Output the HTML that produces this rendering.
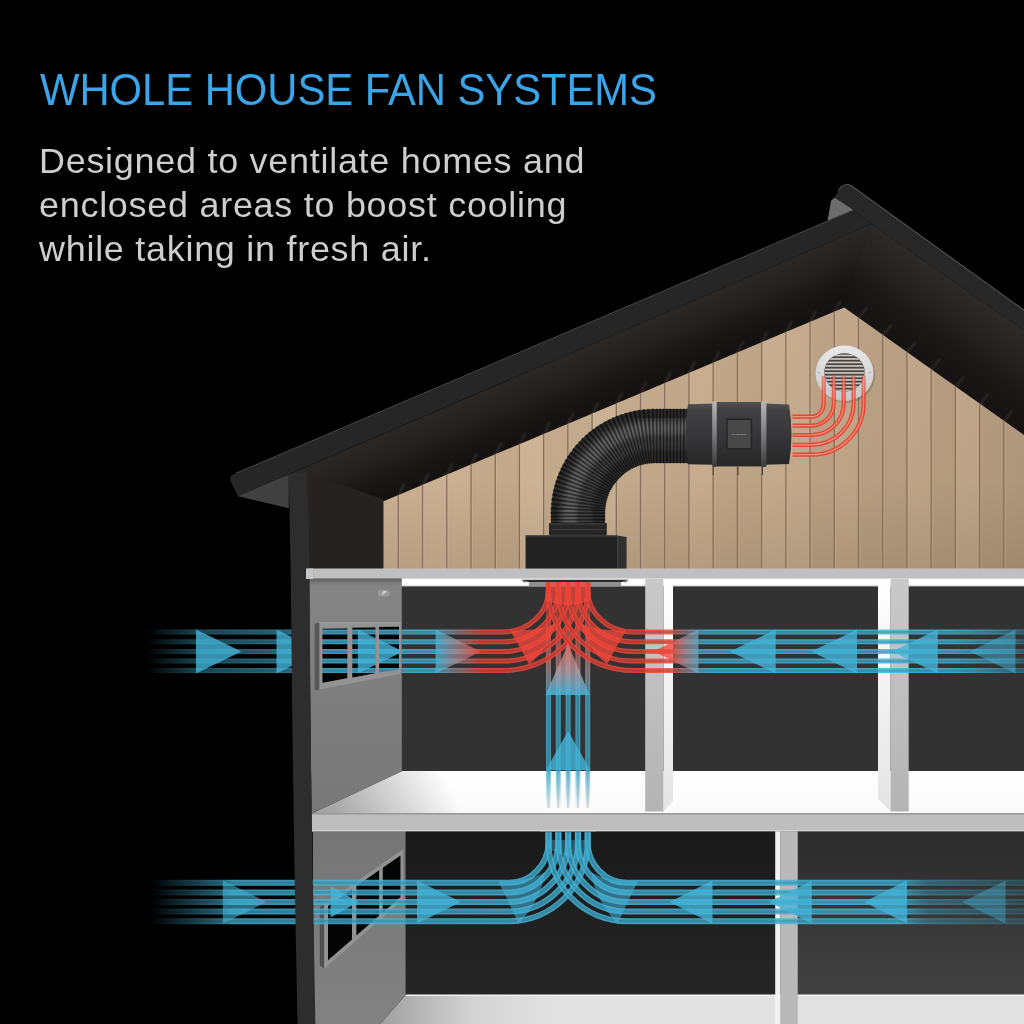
<!DOCTYPE html>
<html lang="en"><head><meta charset="utf-8"><title>Whole House Fan Systems</title>
<style>
html,body{margin:0;padding:0;background:#000;}
body{width:1024px;height:1024px;overflow:hidden;position:relative;font-family:"Liberation Sans",sans-serif;}
svg{position:absolute;left:0;top:0;display:block}
h1{position:absolute;left:40px;top:64.2px;margin:0;font-weight:400;font-size:44.5px;line-height:52px;color:#3aa5e8;white-space:nowrap;transform:scaleX(0.938);transform-origin:0 0}
p{position:absolute;left:38.5px;top:138.6px;margin:0;font-size:34.5px;line-height:44px;color:#cecece;white-space:nowrap;letter-spacing:0.7px;transform:scaleX(1.042);transform-origin:0 0}
</style></head><body>
<svg width="1024" height="1024" viewBox="0 0 1024 1024">
<defs>
<linearGradient id="gWood" x1="0" y1="0" x2="0" y2="1"><stop offset="0" stop-color="#ceb394"/><stop offset="1" stop-color="#c8ad8e"/></linearGradient>
<linearGradient id="gSoffL" gradientUnits="userSpaceOnUse" x1="560" y1="358" x2="585" y2="416"><stop offset="0" stop-color="#2a2724"/><stop offset="0.35" stop-color="#24211e"/><stop offset="0.6" stop-color="#1a1816"/><stop offset="1" stop-color="#141211"/></linearGradient>
<linearGradient id="gSoffR" gradientUnits="userSpaceOnUse" x1="960" y1="286" x2="911" y2="356"><stop offset="0" stop-color="#2c2926"/><stop offset="0.35" stop-color="#25221f"/><stop offset="0.6" stop-color="#1b1917"/><stop offset="1" stop-color="#151312"/></linearGradient>
<linearGradient id="gSideU" x1="0" y1="0" x2="0" y2="1"><stop offset="0" stop-color="#6e6e6e"/><stop offset="0.035" stop-color="#848484"/><stop offset="0.5" stop-color="#7e7e7e"/><stop offset="1" stop-color="#787878"/></linearGradient>
<linearGradient id="gSideL" x1="0" y1="0" x2="0" y2="1"><stop offset="0" stop-color="#757575"/><stop offset="0.5" stop-color="#7c7c7c"/><stop offset="1" stop-color="#828282"/></linearGradient>
<linearGradient id="gFloorX" gradientUnits="userSpaceOnUse" x1="335" y1="822" x2="440" y2="768"><stop offset="0" stop-color="#8e8e8e" stop-opacity="0.8"/><stop offset="1" stop-color="#8e8e8e" stop-opacity="0"/></linearGradient>
<linearGradient id="gLFloor" gradientUnits="userSpaceOnUse" x1="385" y1="0" x2="560" y2="0"><stop offset="0" stop-color="#a2a2a2"/><stop offset="0.5" stop-color="#d4d4d4"/><stop offset="1" stop-color="#e2e2e2"/></linearGradient>
<linearGradient id="gFloor" x1="0" y1="0" x2="0" y2="1"><stop offset="0" stop-color="#ffffff"/><stop offset="1" stop-color="#fafafa"/></linearGradient>
<linearGradient id="gRoomLR" x1="0" y1="0" x2="0" y2="1"><stop offset="0" stop-color="#2b2b2b"/><stop offset="1" stop-color="#424242"/></linearGradient>
<linearGradient id="gRoomLM" x1="0" y1="0" x2="0" y2="1"><stop offset="0" stop-color="#191919"/><stop offset="1" stop-color="#262626"/></linearGradient>
<linearGradient id="gFan" x1="0" y1="0" x2="0" y2="1"><stop offset="0" stop-color="#525252"/><stop offset="0.12" stop-color="#404042"/><stop offset="0.5" stop-color="#37373a"/><stop offset="1" stop-color="#262626"/></linearGradient>
<linearGradient id="gBand" x1="0" y1="0" x2="0" y2="1"><stop offset="0" stop-color="#b8b8b8"/><stop offset="0.5" stop-color="#7c7c7c"/><stop offset="1" stop-color="#3a3a3a"/></linearGradient>
<linearGradient id="gPilF" x1="0" y1="0" x2="0" y2="1"><stop offset="0" stop-color="#c9c9c9"/><stop offset="1" stop-color="#b4b4b4"/></linearGradient>
<linearGradient id="gPilS" x1="0" y1="0" x2="0" y2="1"><stop offset="0" stop-color="#ffffff"/><stop offset="1" stop-color="#e4e4e4"/></linearGradient>
<linearGradient id="gVent" x1="0" y1="0" x2="0" y2="1"><stop offset="0" stop-color="#e9e9e9"/><stop offset="1" stop-color="#c6c6c6"/></linearGradient>
<!-- airflow gradients (userSpaceOnUse) -->
<linearGradient id="gUL" gradientUnits="userSpaceOnUse" x1="146" y1="0" x2="482" y2="0">
 <stop offset="0" stop-color="#44b4d8" stop-opacity="0"/><stop offset="0.155" stop-color="#44b4d8" stop-opacity="0.5"/><stop offset="0.414" stop-color="#44b4d8" stop-opacity="0.72"/><stop offset="0.512" stop-color="#44b4d8" stop-opacity="1"/>
 <stop offset="0.86" stop-color="#44b4d8"/><stop offset="0.925" stop-color="#a895a0" stop-opacity="0.8"/><stop offset="1" stop-color="#ef463a"/></linearGradient>
<linearGradient id="gUR" gradientUnits="userSpaceOnUse" x1="1024" y1="0" x2="670" y2="0">
 <stop offset="0" stop-color="#44b4d8" stop-opacity="0.45"/><stop offset="0.1" stop-color="#44b4d8" stop-opacity="0.8"/><stop offset="0.2" stop-color="#44b4d8" stop-opacity="1"/>
 <stop offset="0.9" stop-color="#44b4d8"/><stop offset="0.955" stop-color="#a895a0" stop-opacity="0.8"/><stop offset="1" stop-color="#ef463a"/></linearGradient>
<linearGradient id="gUV" gradientUnits="userSpaceOnUse" x1="0" y1="808" x2="0" y2="596">
 <stop offset="0" stop-color="#44b4d8" stop-opacity="0"/><stop offset="0.17" stop-color="#44b4d8" stop-opacity="0.95"/>
 <stop offset="0.53" stop-color="#44b4d8"/><stop offset="0.66" stop-color="#c09aa0" stop-opacity="0.85"/><stop offset="0.8" stop-color="#ef6a5e" stop-opacity="0.8"/><stop offset="1" stop-color="#ef463a" stop-opacity="0.7"/></linearGradient>
<linearGradient id="gLL" gradientUnits="userSpaceOnUse" x1="150" y1="0" x2="600" y2="0">
 <stop offset="0" stop-color="#44b4d8" stop-opacity="0"/><stop offset="0.160" stop-color="#44b4d8" stop-opacity="0.7"/><stop offset="0.182" stop-color="#44b4d8" stop-opacity="0.95"/>
 <stop offset="1" stop-color="#44b4d8"/></linearGradient>
<linearGradient id="gLR" gradientUnits="userSpaceOnUse" x1="1024" y1="0" x2="540" y2="0">
 <stop offset="0" stop-color="#44b4d8" stop-opacity="0.3"/><stop offset="0.2" stop-color="#44b4d8" stop-opacity="0.55"/><stop offset="0.26" stop-color="#44b4d8" stop-opacity="1"/>
 <stop offset="1" stop-color="#44b4d8"/></linearGradient>
<filter id="fBlur" x="-5%" y="-5%" width="110%" height="110%"><feGaussianBlur stdDeviation="0.45"/></filter>
<filter id="fBlur2" x="-10%" y="-10%" width="120%" height="120%"><feGaussianBlur stdDeviation="2.2"/></filter>
<linearGradient id="gWoodX" gradientUnits="userSpaceOnUse" x1="620" y1="0" x2="1024" y2="0"><stop offset="0" stop-color="#2a1c10" stop-opacity="0"/><stop offset="1" stop-color="#2a1c10" stop-opacity="0.13"/></linearGradient>
<linearGradient id="gWoodAO" gradientUnits="userSpaceOnUse" x1="0" y1="480" x2="0" y2="569"><stop offset="0" stop-color="#2a1c10" stop-opacity="0"/><stop offset="1" stop-color="#2a1c10" stop-opacity="0.1"/></linearGradient>
<filter id="fBlur3" x="-50%" y="-50%" width="200%" height="200%"><feGaussianBlur stdDeviation="0.9"/></filter>
<linearGradient id="gRedV" gradientUnits="userSpaceOnUse" x1="0" y1="376" x2="0" y2="403"><stop offset="0" stop-color="#e8402f" stop-opacity="0.5"/><stop offset="1" stop-color="#e8402f" stop-opacity="0.94"/></linearGradient>
<linearGradient id="gRedV2" gradientUnits="userSpaceOnUse" x1="0" y1="376" x2="0" y2="403"><stop offset="0" stop-color="#f8b4a6" stop-opacity="0.5"/><stop offset="1" stop-color="#f39a88" stop-opacity="0.9"/></linearGradient>
<clipPath id="cWood"><polygon points="383.5,501.25 844.25,307.5 1024,435 1024,569.2 383.5,569"/></clipPath>
<clipPath id="cGrille"><ellipse cx="844.5" cy="372.4" rx="20" ry="19"/></clipPath>
</defs>

<polygon points="827.5,221 831,201 834.4,197.5 845,203 853.5,210" fill="#6c6c6c"/>
<polygon points="830,250 871.25,224.1 900,250 870,330 844.25,307.5 820,320" fill="#1f1c1a"/>
<polygon points="288.75,474.5 871.25,224.1 844.25,307.5 383.75,501.25 383.75,520 300,520" fill="url(#gSoffL)"/>
<polygon points="871.25,224.1 1024,330.3 1024,436 844.25,307.5" fill="url(#gSoffR)"/>
<g filter="url(#fBlur3)" stroke="#4a4643" stroke-linecap="round" fill="none">
<path d="M398.5,495.5 l5.5,-11" stroke-width="1.8" stroke-opacity="0.55"/>
<path d="M422.7,485.4 l5.5,-11" stroke-width="1.8" stroke-opacity="0.55"/>
<path d="M446.9,475.2 l5.5,-11" stroke-width="1.8" stroke-opacity="0.55"/>
<path d="M471.2,465.0 l5.5,-11" stroke-width="1.8" stroke-opacity="0.55"/>
<path d="M495.4,454.8 l5.5,-11" stroke-width="1.8" stroke-opacity="0.55"/>
<path d="M519.6,444.6 l5.5,-11" stroke-width="1.8" stroke-opacity="0.55"/>
<path d="M543.8,434.4 l5.5,-11" stroke-width="1.8" stroke-opacity="0.55"/>
<path d="M568.0,424.2 l5.5,-11" stroke-width="1.8" stroke-opacity="0.55"/>
<path d="M592.3,414.0 l5.5,-11" stroke-width="1.8" stroke-opacity="0.55"/>
<path d="M616.5,403.8 l5.5,-11" stroke-width="1.8" stroke-opacity="0.55"/>
<path d="M640.7,393.7 l5.5,-11" stroke-width="1.8" stroke-opacity="0.55"/>
<path d="M664.9,383.5 l5.5,-11" stroke-width="1.8" stroke-opacity="0.55"/>
<path d="M689.1,373.3 l5.5,-11" stroke-width="1.8" stroke-opacity="0.55"/>
<path d="M713.4,363.1 l5.5,-11" stroke-width="1.8" stroke-opacity="0.55"/>
<path d="M737.6,352.9 l5.5,-11" stroke-width="1.8" stroke-opacity="0.55"/>
<path d="M761.8,342.7 l5.5,-11" stroke-width="1.8" stroke-opacity="0.55"/>
<path d="M786.0,332.5 l5.5,-11" stroke-width="1.8" stroke-opacity="0.55"/>
<path d="M810.2,322.3 l5.5,-11" stroke-width="1.8" stroke-opacity="0.55"/>
<path d="M834.5,312.1 l5.5,-11" stroke-width="1.8" stroke-opacity="0.55"/>
<path d="M858.7,318.2 l8,-10" stroke-width="1.8" stroke-opacity="0.55"/>
<path d="M882.9,335.4 l8,-10" stroke-width="1.8" stroke-opacity="0.55"/>
<path d="M907.1,352.6 l8,-10" stroke-width="1.8" stroke-opacity="0.55"/>
<path d="M931.3,369.7 l8,-10" stroke-width="1.8" stroke-opacity="0.55"/>
<path d="M955.6,386.9 l8,-10" stroke-width="1.8" stroke-opacity="0.55"/>
<path d="M979.8,404.1 l8,-10" stroke-width="1.8" stroke-opacity="0.55"/>
<path d="M1004.0,421.3 l8,-10" stroke-width="1.8" stroke-opacity="0.55"/>
</g>
<polygon points="306,472 384.5,500 384.5,568 306,568" fill="#262220"/>
<g clip-path="url(#cWood)">
<rect x="380" y="300" width="650" height="270" fill="url(#gWood)"/>
<rect x="380" y="300" width="650" height="270" fill="url(#gWoodX)"/>
<rect x="380" y="480" width="650" height="90" fill="url(#gWoodAO)"/>
<rect x="383.00" y="300" width="15.50" height="270" fill="#fff" opacity="0.030"/>
<rect x="422.72" y="300" width="24.22" height="270" fill="#fff" opacity="0.030"/>
<rect x="471.16" y="300" width="24.22" height="270" fill="#000" opacity="0.030"/>
<rect x="495.38" y="300" width="24.22" height="270" fill="#000" opacity="0.030"/>
<rect x="519.60" y="300" width="24.22" height="270" fill="#fff" opacity="0.060"/>
<rect x="543.82" y="300" width="24.22" height="270" fill="#000" opacity="0.030"/>
<rect x="568.04" y="300" width="24.22" height="270" fill="#000" opacity="0.030"/>
<rect x="592.26" y="300" width="24.22" height="270" fill="#fff" opacity="0.030"/>
<rect x="616.48" y="300" width="24.22" height="270" fill="#000" opacity="0.030"/>
<rect x="640.70" y="300" width="24.22" height="270" fill="#000" opacity="0.030"/>
<rect x="664.92" y="300" width="24.22" height="270" fill="#000" opacity="0.030"/>
<rect x="713.36" y="300" width="24.22" height="270" fill="#000" opacity="0.030"/>
<rect x="737.58" y="300" width="24.22" height="270" fill="#000" opacity="0.030"/>
<rect x="761.80" y="300" width="24.22" height="270" fill="#fff" opacity="0.030"/>
<rect x="786.02" y="300" width="24.22" height="270" fill="#fff" opacity="0.030"/>
<rect x="810.24" y="300" width="24.22" height="270" fill="#000" opacity="0.030"/>
<rect x="858.68" y="300" width="24.22" height="270" fill="#000" opacity="0.030"/>
<rect x="882.90" y="300" width="24.22" height="270" fill="#000" opacity="0.030"/>
<rect x="907.12" y="300" width="24.22" height="270" fill="#fff" opacity="0.030"/>
<rect x="931.34" y="300" width="24.22" height="270" fill="#000" opacity="0.030"/>
<rect x="955.56" y="300" width="24.22" height="270" fill="#fff" opacity="0.060"/>
<rect x="979.78" y="300" width="24.22" height="270" fill="#000" opacity="0.030"/>
<rect x="1004.00" y="300" width="26.00" height="270" fill="#000" opacity="0.030"/>
<rect x="397.70" y="300" width="1.3" height="270" fill="#836f5b"/>
<rect x="399.10" y="300" width="1.0" height="270" fill="#d8bc9c" opacity="0.3"/>
<rect x="421.92" y="300" width="1.3" height="270" fill="#836f5b"/>
<rect x="423.32" y="300" width="1.0" height="270" fill="#d8bc9c" opacity="0.3"/>
<rect x="446.14" y="300" width="1.3" height="270" fill="#836f5b"/>
<rect x="447.54" y="300" width="1.0" height="270" fill="#d8bc9c" opacity="0.3"/>
<rect x="470.36" y="300" width="1.3" height="270" fill="#836f5b"/>
<rect x="471.76" y="300" width="1.0" height="270" fill="#d8bc9c" opacity="0.3"/>
<rect x="494.58" y="300" width="1.3" height="270" fill="#836f5b"/>
<rect x="495.98" y="300" width="1.0" height="270" fill="#d8bc9c" opacity="0.3"/>
<rect x="518.80" y="300" width="1.3" height="270" fill="#836f5b"/>
<rect x="520.20" y="300" width="1.0" height="270" fill="#d8bc9c" opacity="0.3"/>
<rect x="543.02" y="300" width="1.3" height="270" fill="#836f5b"/>
<rect x="544.42" y="300" width="1.0" height="270" fill="#d8bc9c" opacity="0.3"/>
<rect x="567.24" y="300" width="1.3" height="270" fill="#836f5b"/>
<rect x="568.64" y="300" width="1.0" height="270" fill="#d8bc9c" opacity="0.3"/>
<rect x="591.46" y="300" width="1.3" height="270" fill="#836f5b"/>
<rect x="592.86" y="300" width="1.0" height="270" fill="#d8bc9c" opacity="0.3"/>
<rect x="615.68" y="300" width="1.3" height="270" fill="#836f5b"/>
<rect x="617.08" y="300" width="1.0" height="270" fill="#d8bc9c" opacity="0.3"/>
<rect x="639.90" y="300" width="1.3" height="270" fill="#836f5b"/>
<rect x="641.30" y="300" width="1.0" height="270" fill="#d8bc9c" opacity="0.3"/>
<rect x="664.12" y="300" width="1.3" height="270" fill="#836f5b"/>
<rect x="665.52" y="300" width="1.0" height="270" fill="#d8bc9c" opacity="0.3"/>
<rect x="688.34" y="300" width="1.3" height="270" fill="#836f5b"/>
<rect x="689.74" y="300" width="1.0" height="270" fill="#d8bc9c" opacity="0.3"/>
<rect x="712.56" y="300" width="1.3" height="270" fill="#836f5b"/>
<rect x="713.96" y="300" width="1.0" height="270" fill="#d8bc9c" opacity="0.3"/>
<rect x="736.78" y="300" width="1.3" height="270" fill="#836f5b"/>
<rect x="738.18" y="300" width="1.0" height="270" fill="#d8bc9c" opacity="0.3"/>
<rect x="761.00" y="300" width="1.3" height="270" fill="#836f5b"/>
<rect x="762.40" y="300" width="1.0" height="270" fill="#d8bc9c" opacity="0.3"/>
<rect x="785.22" y="300" width="1.3" height="270" fill="#836f5b"/>
<rect x="786.62" y="300" width="1.0" height="270" fill="#d8bc9c" opacity="0.3"/>
<rect x="809.44" y="300" width="1.3" height="270" fill="#836f5b"/>
<rect x="810.84" y="300" width="1.0" height="270" fill="#d8bc9c" opacity="0.3"/>
<rect x="833.66" y="300" width="1.3" height="270" fill="#836f5b"/>
<rect x="835.06" y="300" width="1.0" height="270" fill="#d8bc9c" opacity="0.3"/>
<rect x="857.88" y="300" width="1.3" height="270" fill="#836f5b"/>
<rect x="859.28" y="300" width="1.0" height="270" fill="#d8bc9c" opacity="0.3"/>
<rect x="882.10" y="300" width="1.3" height="270" fill="#836f5b"/>
<rect x="883.50" y="300" width="1.0" height="270" fill="#d8bc9c" opacity="0.3"/>
<rect x="906.32" y="300" width="1.3" height="270" fill="#836f5b"/>
<rect x="907.72" y="300" width="1.0" height="270" fill="#d8bc9c" opacity="0.3"/>
<rect x="930.54" y="300" width="1.3" height="270" fill="#836f5b"/>
<rect x="931.94" y="300" width="1.0" height="270" fill="#d8bc9c" opacity="0.3"/>
<rect x="954.76" y="300" width="1.3" height="270" fill="#836f5b"/>
<rect x="956.16" y="300" width="1.0" height="270" fill="#d8bc9c" opacity="0.3"/>
<rect x="978.98" y="300" width="1.3" height="270" fill="#836f5b"/>
<rect x="980.38" y="300" width="1.0" height="270" fill="#d8bc9c" opacity="0.3"/>
<rect x="1003.20" y="300" width="1.3" height="270" fill="#836f5b"/>
<rect x="1004.60" y="300" width="1.0" height="270" fill="#d8bc9c" opacity="0.3"/>
</g>
<path d="M231,482 Q228.5,476.5 234,474 L237.5,472.5 L853.5,210 L871.25,224.1 L237.8,496.2 Z" fill="#262626"/>
<path d="M236,473.2 L853.5,210" stroke="#454545" stroke-width="1" fill="none"/>
<path d="M834.4,197.5 L841,187 Q845,182.5 851,185.4 L1024,310 L1024,330.3 L871.25,224.1 L853.5,210 Z" fill="#272728"/>
<path d="M838,191 L841,187 Q845,182.8 851,185.6 L1024,310.2" stroke="#505050" stroke-width="1.1" fill="none"/>
<polygon points="237.8,496.2 288.75,474.5 288.75,508.2" fill="#414141"/>
<rect x="401" y="586" width="623" height="186" fill="#323232"/>
<rect x="306" y="568.4" width="718" height="10.6" fill="#bfbfbf"/>
<rect x="401" y="578.6" width="623" height="7.6" fill="#fdfdfd"/>
<rect x="401" y="585.6" width="623" height="1.4" fill="#8a8a8a" opacity="0.6"/>
<polygon points="402,771 1024,771 1024,813.2 312.8,813.2" fill="url(#gFloor)"/>
<polygon points="402,771 520,771 520,813.2 312.8,813.2" fill="url(#gFloorX)"/>
<rect x="311.5" y="813.2" width="713" height="18.4" fill="#bebebe"/>
<rect x="311.5" y="813.2" width="713" height="1.3" fill="#949494"/>
<rect x="311.5" y="830.2" width="713" height="1.3" fill="#d8d8d8"/>
<rect x="405.6" y="831.5" width="370" height="164" fill="url(#gRoomLM)"/>
<rect x="797.5" y="831.5" width="227" height="164" fill="url(#gRoomLR)"/>
<polygon points="405.6,995 1024,995 1024,1024 380,1024" fill="url(#gLFloor)"/>
<rect x="405.6" y="994.5" width="620" height="1.5" fill="#f4f4f4"/>
<polygon points="312.8,831.5 405.6,831.5 405.6,995 380,1024 314,1024" fill="url(#gSideL)"/>
<polygon points="319.8,907 324.2,904 324.2,968.5 319.8,965.5" fill="#505050"/>
<polygon points="324.2,904 403.3,849 403.3,899.6 324.2,968.5" fill="#929292"/>
<polygon points="328,905.9 352,889.2 352,939.4 328,960.3" fill="#040404"/>
<polygon points="356.4,886.1 379.1,870.3 379.1,915.8 356.4,935.6" fill="#040404"/>
<polygon points="382.8,867.8 400.5,855.4 400.5,897.1 382.8,912.6" fill="#040404"/>
<rect x="775.2" y="831.5" width="5.2" height="193" fill="#f2f2f2"/>
<rect x="780.2" y="831.5" width="17.6" height="193" fill="#b9b9b9"/>
<polygon points="645.2,579 663.6,579 663.6,811.5 645.2,811.5" fill="url(#gPilF)"/>
<polygon points="663.6,579 673,579 673,800.6 663.6,811.5" fill="url(#gPilS)"/>
<polygon points="878,579 890.6,579 890.6,811.5 878,799" fill="url(#gPilS)"/>
<polygon points="890.6,579 908.7,579 908.7,811.5 890.6,811.5" fill="url(#gPilF)"/>
<rect x="529" y="581.6" width="92" height="4.6" fill="#909090"/>
<polygon points="521,579.7 628.6,579.7 622,582 528,582" fill="#2a2a2a"/>
<polygon points="521,579.7 528,582 524,582.6" fill="#777"/><polygon points="628.6,579.7 622,582 626,582.6" fill="#777"/>
<rect x="525.6" y="535.5" width="91.6" height="33" fill="#222222"/>
<polygon points="617.2,535.5 626.6,537 626.6,568.5 617.2,568.5" fill="#303030"/>
<rect x="525.6" y="535.3" width="91.6" height="1.2" fill="#444"/>
<path d="M578,524 L578,513 A77,77 0 0 1 655,436 L689,436" fill="none" stroke="#2a2a2a" stroke-width="54"/>
<g filter="url(#fBlur2)">
<path d="M575,526 L575,513 A80,80 0 0 1 655,433 L691,433" fill="none" stroke="#3e3e3e" stroke-width="34"/>
<path d="M570,526 L570,513 A85,85 0 0 1 655,428 L691,428" fill="none" stroke="#606060" stroke-width="13"/>
</g>
<path d="M578,524 L578,513 A77,77 0 0 1 655,436 L689,436" fill="none" stroke="#000" stroke-opacity="0.5" stroke-width="55" stroke-dasharray="1.7 1.7"/>
<rect x="549" y="523" width="57.8" height="12.5" rx="1.5" fill="#262626"/>
<rect x="549" y="523" width="57.8" height="2" fill="#333"/>
<rect x="551" y="529" width="54" height="1.2" fill="#3a3a3a"/>
<path d="M688,404.2 L714,403.6 L714,464.8 L688,464.2 Q683,434 688,404.2 Z" fill="url(#gFan)"/>
<rect x="716" y="402" width="47" height="64.4" fill="url(#gFan)"/>
<path d="M765,403.6 L789,404.4 Q794,434 789,464 L765,464.8 Z" fill="url(#gFan)"/>
<rect x="712.2" y="401" width="4.6" height="66" rx="1.5" fill="url(#gBand)"/>
<rect x="761" y="401" width="5.4" height="66" rx="1.5" fill="url(#gBand)"/>
<rect x="726.2" y="418.3" width="26" height="31.4" rx="1" fill="#262626"/>
<rect x="727.8" y="420" width="22.8" height="28" fill="#484848"/>
<text x="739.2" y="435.2" font-family="Liberation Sans, sans-serif" font-size="2.5" fill="#cfcfcf" text-anchor="middle" letter-spacing="0.15">AC INFINITY</text>
<rect x="712.7" y="467" width="1" height="8" fill="#2a2a2a" opacity="0.8"/>
<rect x="737.5" y="467" width="1" height="8" fill="#2a2a2a" opacity="0.8"/>
<rect x="762.0" y="467" width="1" height="8" fill="#2a2a2a" opacity="0.8"/>
<ellipse cx="846" cy="375" rx="29" ry="28" fill="#000" opacity="0.18"/>
<ellipse cx="844.6" cy="373.4" rx="29" ry="27.8" fill="url(#gVent)"/>
<ellipse cx="844.5" cy="372.4" rx="20.2" ry="19.2" fill="#4a433e"/>
<g clip-path="url(#cGrille)">
<rect x="822" y="354.60" width="46" height="1.7" fill="#cdc9c6"/>
<rect x="822" y="358.10" width="46" height="1.7" fill="#cdc9c6"/>
<rect x="822" y="361.60" width="46" height="1.7" fill="#cdc9c6"/>
<rect x="822" y="365.10" width="46" height="1.7" fill="#cdc9c6"/>
<rect x="822" y="368.60" width="46" height="1.7" fill="#cdc9c6"/>
<rect x="822" y="372.10" width="46" height="1.7" fill="#cdc9c6"/>
<rect x="822" y="375.60" width="46" height="1.7" fill="#cdc9c6"/>
<rect x="822" y="379.10" width="46" height="1.7" fill="#cdc9c6"/>
<rect x="822" y="382.60" width="46" height="1.7" fill="#cdc9c6"/>
<rect x="822" y="386.10" width="46" height="1.7" fill="#cdc9c6"/>
<rect x="822" y="389.60" width="46" height="1.7" fill="#cdc9c6"/>
<rect x="822" y="393.10" width="46" height="1.7" fill="#cdc9c6"/>
</g>
<circle cx="818.8" cy="372.6" r="0.8" fill="#999"/><circle cx="870" cy="372.6" r="0.8" fill="#999"/>
<path d="M792.5,416.7 L811.6,416.7 A12.20,13.20 0 0 0 823.8,403.5 L823.8,376" fill="none" stroke="url(#gRedV)" stroke-width="4.2"/>
<path d="M792.5,416.7 L811.6,416.7 A12.20,13.20 0 0 0 823.8,403.5 L823.8,376" fill="none" stroke="url(#gRedV2)" stroke-width="1.2"/>
<path d="M792.5,425.6 L811.6,425.6 A22.20,22.10 0 0 0 833.8,403.5 L833.8,376" fill="none" stroke="url(#gRedV)" stroke-width="4.2"/>
<path d="M792.5,425.6 L811.6,425.6 A22.20,22.10 0 0 0 833.8,403.5 L833.8,376" fill="none" stroke="url(#gRedV2)" stroke-width="1.2"/>
<path d="M792.5,435 L811.6,435 A32.10,31.50 0 0 0 843.7,403.5 L843.7,376" fill="none" stroke="url(#gRedV)" stroke-width="4.2"/>
<path d="M792.5,435 L811.6,435 A32.10,31.50 0 0 0 843.7,403.5 L843.7,376" fill="none" stroke="url(#gRedV2)" stroke-width="1.2"/>
<path d="M792.5,444.8 L811.6,444.8 A42.00,41.30 0 0 0 853.6,403.5 L853.6,376" fill="none" stroke="url(#gRedV)" stroke-width="4.2"/>
<path d="M792.5,444.8 L811.6,444.8 A42.00,41.30 0 0 0 853.6,403.5 L853.6,376" fill="none" stroke="url(#gRedV2)" stroke-width="1.2"/>
<path d="M792.5,454.7 L811.6,454.7 A52.00,51.20 0 0 0 863.6,403.5 L863.6,376" fill="none" stroke="url(#gRedV)" stroke-width="4.2"/>
<path d="M792.5,454.7 L811.6,454.7 A52.00,51.20 0 0 0 863.6,403.5 L863.6,376" fill="none" stroke="url(#gRedV2)" stroke-width="1.2"/>
<g id="flow-back" filter="url(#fBlur)">
<path d="M548.5,808 L548.51,596" fill="none" stroke="url(#gUV)" stroke-width="5.0" stroke-opacity="0.8"/>
<path d="M548.5,808 L548.51,596" fill="none" stroke="#000" stroke-width="2.25" stroke-opacity="0.13"/>
<path d="M558.3,808 L558.31,596" fill="none" stroke="url(#gUV)" stroke-width="5.0" stroke-opacity="0.8"/>
<path d="M558.3,808 L558.31,596" fill="none" stroke="#000" stroke-width="2.25" stroke-opacity="0.13"/>
<path d="M568.1,808 L568.11,596" fill="none" stroke="url(#gUV)" stroke-width="5.0" stroke-opacity="0.8"/>
<path d="M568.1,808 L568.11,596" fill="none" stroke="#000" stroke-width="2.25" stroke-opacity="0.13"/>
<path d="M577.9,808 L577.91,596" fill="none" stroke="url(#gUV)" stroke-width="5.0" stroke-opacity="0.8"/>
<path d="M577.9,808 L577.91,596" fill="none" stroke="#000" stroke-width="2.25" stroke-opacity="0.13"/>
<path d="M587.7,808 L587.71,596" fill="none" stroke="url(#gUV)" stroke-width="5.0" stroke-opacity="0.8"/>
<path d="M587.7,808 L587.71,596" fill="none" stroke="#000" stroke-width="2.25" stroke-opacity="0.13"/>
<path d="M146,632.0 L503,632.0 A45.5,42.0 0 0 0 548.5,590 L548.5,582.2" fill="none" stroke="url(#gUL)" stroke-width="5.0" stroke-opacity="0.85"/>
<path d="M146,632.0 L503,632.0 A45.5,42.0 0 0 0 548.5,590 L548.5,582.2" fill="none" stroke="#000" stroke-width="2.25" stroke-opacity="0.13"/>
<path d="M146,641.75 L503,641.75 A55.3,51.8 0 0 0 558.3,590 L558.3,582.2" fill="none" stroke="url(#gUL)" stroke-width="5.0" stroke-opacity="0.85"/>
<path d="M146,641.75 L503,641.75 A55.3,51.8 0 0 0 558.3,590 L558.3,582.2" fill="none" stroke="#000" stroke-width="2.25" stroke-opacity="0.13"/>
<path d="M146,651.5 L503,651.5 A65.1,61.5 0 0 0 568.1,590 L568.1,582.2" fill="none" stroke="url(#gUL)" stroke-width="5.0" stroke-opacity="0.85"/>
<path d="M146,651.5 L503,651.5 A65.1,61.5 0 0 0 568.1,590 L568.1,582.2" fill="none" stroke="#000" stroke-width="2.25" stroke-opacity="0.13"/>
<path d="M146,661.1 L503,661.1 A74.9,71.1 0 0 0 577.9,590 L577.9,582.2" fill="none" stroke="url(#gUL)" stroke-width="5.0" stroke-opacity="0.85"/>
<path d="M146,661.1 L503,661.1 A74.9,71.1 0 0 0 577.9,590 L577.9,582.2" fill="none" stroke="#000" stroke-width="2.25" stroke-opacity="0.13"/>
<path d="M146,670.6 L503,670.6 A84.7,80.6 0 0 0 587.7,590 L587.7,582.2" fill="none" stroke="url(#gUL)" stroke-width="5.0" stroke-opacity="0.85"/>
<path d="M146,670.6 L503,670.6 A84.7,80.6 0 0 0 587.7,590 L587.7,582.2" fill="none" stroke="#000" stroke-width="2.25" stroke-opacity="0.13"/>
<path d="M1024,632.0 L633,632.0 A45.3,42.0 0 0 1 587.7,590 L587.7,582.2" fill="none" stroke="url(#gUR)" stroke-width="5.0" stroke-opacity="0.85"/>
<path d="M1024,632.0 L633,632.0 A45.3,42.0 0 0 1 587.7,590 L587.7,582.2" fill="none" stroke="#000" stroke-width="2.25" stroke-opacity="0.13"/>
<path d="M1024,641.75 L633,641.75 A55.1,51.8 0 0 1 577.9,590 L577.9,582.2" fill="none" stroke="url(#gUR)" stroke-width="5.0" stroke-opacity="0.85"/>
<path d="M1024,641.75 L633,641.75 A55.1,51.8 0 0 1 577.9,590 L577.9,582.2" fill="none" stroke="#000" stroke-width="2.25" stroke-opacity="0.13"/>
<path d="M1024,651.5 L633,651.5 A64.9,61.5 0 0 1 568.1,590 L568.1,582.2" fill="none" stroke="url(#gUR)" stroke-width="5.0" stroke-opacity="0.85"/>
<path d="M1024,651.5 L633,651.5 A64.9,61.5 0 0 1 568.1,590 L568.1,582.2" fill="none" stroke="#000" stroke-width="2.25" stroke-opacity="0.13"/>
<path d="M1024,661.1 L633,661.1 A74.7,71.1 0 0 1 558.3,590 L558.3,582.2" fill="none" stroke="url(#gUR)" stroke-width="5.0" stroke-opacity="0.85"/>
<path d="M1024,661.1 L633,661.1 A74.7,71.1 0 0 1 558.3,590 L558.3,582.2" fill="none" stroke="#000" stroke-width="2.25" stroke-opacity="0.13"/>
<path d="M1024,670.6 L633,670.6 A84.5,80.6 0 0 1 548.5,590 L548.5,582.2" fill="none" stroke="url(#gUR)" stroke-width="5.0" stroke-opacity="0.85"/>
<path d="M1024,670.6 L633,670.6 A84.5,80.6 0 0 1 548.5,590 L548.5,582.2" fill="none" stroke="#000" stroke-width="2.25" stroke-opacity="0.13"/>
<path d="M545.8,582.2 L590.6,582.2 L591,600 Q568,610 545.4,600 Z" fill="#ef463a" fill-opacity="0.75"/>
<path d="M150,882.8 L509,882.8 A39.5,40.8 0 0 0 548.5,842 L548.5,831.5" fill="none" stroke="url(#gLL)" stroke-width="6.0" stroke-opacity="0.85"/>
<path d="M150,882.8 L509,882.8 A39.5,40.8 0 0 0 548.5,842 L548.5,831.5" fill="none" stroke="#000" stroke-width="2.70" stroke-opacity="0.13"/>
<path d="M150,892.4 L509,892.4 A49.3,50.4 0 0 0 558.3,842 L558.3,831.5" fill="none" stroke="url(#gLL)" stroke-width="6.0" stroke-opacity="0.85"/>
<path d="M150,892.4 L509,892.4 A49.3,50.4 0 0 0 558.3,842 L558.3,831.5" fill="none" stroke="#000" stroke-width="2.70" stroke-opacity="0.13"/>
<path d="M150,902.0 L509,902.0 A59.1,60.0 0 0 0 568.1,842 L568.1,831.5" fill="none" stroke="url(#gLL)" stroke-width="6.0" stroke-opacity="0.85"/>
<path d="M150,902.0 L509,902.0 A59.1,60.0 0 0 0 568.1,842 L568.1,831.5" fill="none" stroke="#000" stroke-width="2.70" stroke-opacity="0.13"/>
<path d="M150,911.6 L509,911.6 A68.9,69.6 0 0 0 577.9,842 L577.9,831.5" fill="none" stroke="url(#gLL)" stroke-width="6.0" stroke-opacity="0.85"/>
<path d="M150,911.6 L509,911.6 A68.9,69.6 0 0 0 577.9,842 L577.9,831.5" fill="none" stroke="#000" stroke-width="2.70" stroke-opacity="0.13"/>
<path d="M150,921.2 L509,921.2 A78.7,79.2 0 0 0 587.7,842 L587.7,831.5" fill="none" stroke="url(#gLL)" stroke-width="6.0" stroke-opacity="0.85"/>
<path d="M150,921.2 L509,921.2 A78.7,79.2 0 0 0 587.7,842 L587.7,831.5" fill="none" stroke="#000" stroke-width="2.70" stroke-opacity="0.13"/>
<path d="M1024,882.8 L627,882.8 A39.3,40.8 0 0 1 587.7,842 L587.7,831.5" fill="none" stroke="url(#gLR)" stroke-width="6.0" stroke-opacity="0.85"/>
<path d="M1024,882.8 L627,882.8 A39.3,40.8 0 0 1 587.7,842 L587.7,831.5" fill="none" stroke="#000" stroke-width="2.70" stroke-opacity="0.13"/>
<path d="M1024,892.4 L627,892.4 A49.1,50.4 0 0 1 577.9,842 L577.9,831.5" fill="none" stroke="url(#gLR)" stroke-width="6.0" stroke-opacity="0.85"/>
<path d="M1024,892.4 L627,892.4 A49.1,50.4 0 0 1 577.9,842 L577.9,831.5" fill="none" stroke="#000" stroke-width="2.70" stroke-opacity="0.13"/>
<path d="M1024,902.0 L627,902.0 A58.9,60.0 0 0 1 568.1,842 L568.1,831.5" fill="none" stroke="url(#gLR)" stroke-width="6.0" stroke-opacity="0.85"/>
<path d="M1024,902.0 L627,902.0 A58.9,60.0 0 0 1 568.1,842 L568.1,831.5" fill="none" stroke="#000" stroke-width="2.70" stroke-opacity="0.13"/>
<path d="M1024,911.6 L627,911.6 A68.7,69.6 0 0 1 558.3,842 L558.3,831.5" fill="none" stroke="url(#gLR)" stroke-width="6.0" stroke-opacity="0.85"/>
<path d="M1024,911.6 L627,911.6 A68.7,69.6 0 0 1 558.3,842 L558.3,831.5" fill="none" stroke="#000" stroke-width="2.70" stroke-opacity="0.13"/>
<path d="M1024,921.2 L627,921.2 A78.5,79.2 0 0 1 548.5,842 L548.5,831.5" fill="none" stroke="url(#gLR)" stroke-width="6.0" stroke-opacity="0.85"/>
<path d="M1024,921.2 L627,921.2 A78.5,79.2 0 0 1 548.5,842 L548.5,831.5" fill="none" stroke="#000" stroke-width="2.70" stroke-opacity="0.13"/>
<polygon points="196.0,629.6 196.0,673.4 241.5,651.5" fill="#44b4d8" fill-opacity="0.8"/>
<polygon points="276.5,629.6 276.5,673.4 322.0,651.5" fill="#44b4d8" fill-opacity="0.8"/>
<polygon points="357.8,629.6 357.8,673.4 403.3,651.5" fill="#44b4d8" fill-opacity="0.8"/>
<polygon points="435.6,629.6 435.6,673.4 481,651.5" fill="url(#gUL)" fill-opacity="0.8"/>
<polygon points="1015.5,629.6 1015.5,673.4 969.7,651.5" fill="#44b4d8" fill-opacity="0.5"/>
<polygon points="937.8,629.6 937.8,673.4 892.0,651.5" fill="#44b4d8" fill-opacity="0.8"/>
<polygon points="857.0,629.6 857.0,673.4 811.2,651.5" fill="#44b4d8" fill-opacity="0.8"/>
<polygon points="775.7,629.6 775.7,673.4 729.9,651.5" fill="#44b4d8" fill-opacity="0.8"/>
<polygon points="698.5,629.6 698.5,673.4 653.3,651.3" fill="url(#gUR)" fill-opacity="0.8"/>
<path d="M510,630.5 Q541,631 555.6,623 Q549,648 529,664.5 Q521,648 510,630.5 Z" fill="#ef463a" fill-opacity="0.78"/>
<path d="M626.2,630.5 Q595.2,631 580.6,623 Q587.2,648 607.2,664.5 Q615.2,648 626.2,630.5 Z" fill="#ef463a" fill-opacity="0.78"/>
<polygon points="546.0,770.0 590.2,770.0 568.1,731.0" fill="#44b4d8" fill-opacity="0.8"/>
<polygon points="545.5,695 589.5,695 568.1,644" fill="url(#gUV)" fill-opacity="0.88"/>
<polygon points="222.8,880.2 222.8,923.8 266.5,902.0" fill="#44b4d8" fill-opacity="0.6"/>
<polygon points="330.6,886.0 330.6,917.5 358.8,902.0" fill="#44b4d8" fill-opacity="0.8"/>
<polygon points="417.0,880.6 417.0,923.4 461.0,902.0" fill="#44b4d8" fill-opacity="0.8"/>
<polygon points="712.5,880.6 712.5,923.4 669.5,902.0" fill="#44b4d8" fill-opacity="0.8"/>
<polygon points="811.8,880.6 811.8,923.4 768.8,902.0" fill="#44b4d8" fill-opacity="0.8"/>
<polygon points="907.0,880.6 907.0,923.4 864.0,902.0" fill="#44b4d8" fill-opacity="0.8"/>
<polygon points="1005.5,880.6 1005.5,923.4 962.0,902.0" fill="#44b4d8" fill-opacity="0.4"/>
<path d="M498,881 Q530,882 545,872 Q541,900 518.5,924 Q508,900 498,881 Z" fill="#44b4d8" fill-opacity="0.55"/>
<path d="M638.2,881 Q606.2,882 591.2,872 Q595.2,900 617.7,924 Q628.2,900 638.2,881 Z" fill="#44b4d8" fill-opacity="0.55"/>
<path d="M546,840 L590,840 L589,862 Q566,858 547,848 Z" fill="#44b4d8" fill-opacity="0.4"/>
</g>
<rect x="540" y="813.2" width="56" height="18.3" fill="#bebebe"/>
<rect x="540" y="813.2" width="56" height="1.3" fill="#949494"/>
<rect x="540" y="830.2" width="56" height="1.3" fill="#d8d8d8"/>
<rect x="540" y="831.4" width="56" height="0.8" fill="#1a1a1a" opacity="0.55"/>
<path fill-rule="evenodd" fill="url(#gSideU)" d="M309,578.6 L401.8,578.6 L401.8,771.6 L311.5,813.4 Z M322.3,628.6 L347.5,628.2 L347.5,678.2 L322.3,683.1 Z M352.2,627.6 L375.6,627.2 L375.6,673.2 L352.2,677.8 Z M379.1,626.8 L399,626.4 L399,669.6 L379.1,672.8 Z"/>
<path fill-rule="evenodd" fill="#939393" d="M319.3,622.8 L400.8,622.8 L400.8,673.75 L319.3,689.6 Z M322.3,628.6 L347.5,628.2 L347.5,678.2 L322.3,683.1 Z M352.2,627.6 L375.6,627.2 L375.6,673.2 L352.2,677.8 Z M379.1,626.8 L399,626.4 L399,669.6 L379.1,672.8 Z"/>
<polygon points="314.6,623.8 319.3,622.8 319.3,689.6 314.6,690.4" fill="#585858"/>
<path d="M319.3,622.8 L400.8,622.8" stroke="#a4a4a4" stroke-width="0.8" fill="none"/>
<rect x="378" y="590" width="11.6" height="6.4" rx="2.6" fill="#9a9a9a"/>
<path d="M382.6,595 L383.6,591.8 L386,591.6 L384.4,593.6" stroke="#e8e8e8" stroke-width="0.9" fill="none"/>
<rect x="309" y="578.6" width="92.5" height="3" fill="#5e5e5e" opacity="0.5"/>
<polygon points="288.75,474.2 307.5,471.5 309.6,578 310.5,730 312.8,880 315.4,1024 297.5,1024 294.7,880 292.4,730 290.8,580" fill="#2d2d2d"/>
<polygon points="306,568.4 313,568.4 313,579 306,579" fill="#c6c6c6"/>
</svg>
<h1>WHOLE HOUSE FAN SYSTEMS</h1>
<p>Designed to ventilate homes and<br>enclosed areas to boost cooling<br>while taking in fresh air.</p>
</body></html>
